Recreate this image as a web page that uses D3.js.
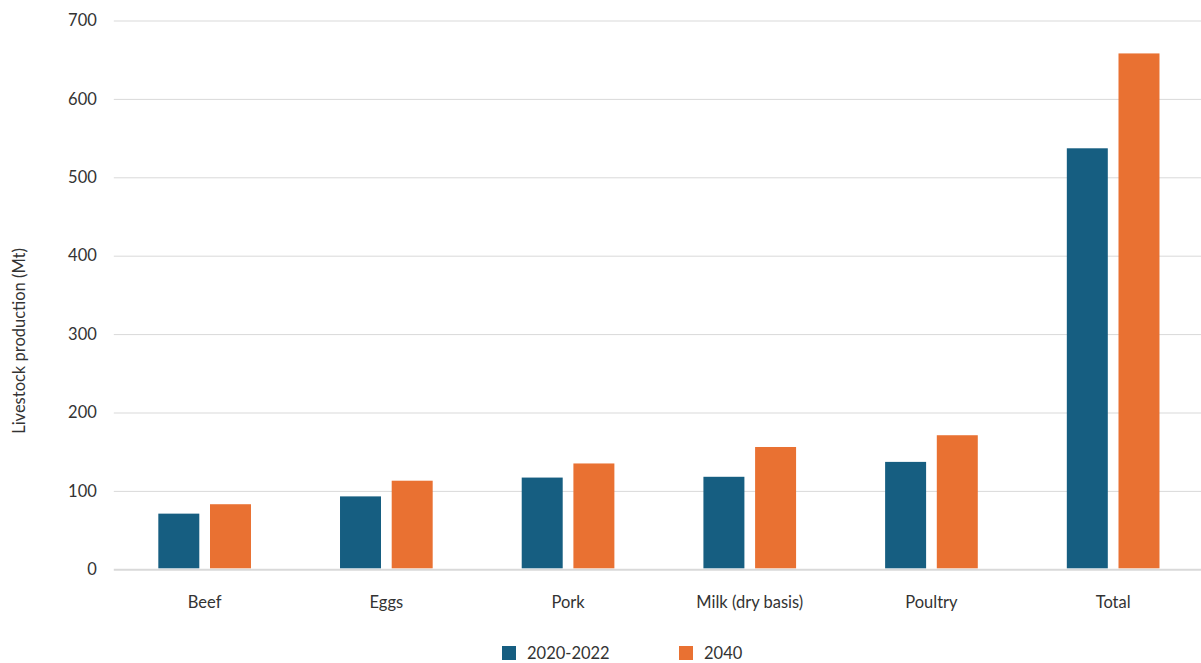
<!DOCTYPE html>
<html>
<head>
<meta charset="utf-8">
<script src="https://cdn.jsdelivr.net/npm/d3@7"></script>
<style>
  html, body { margin: 0; padding: 0; background: #fff; }
  svg { display: block; font-family: Lato, "Open Sans", sans-serif; }
</style>
</head>
<body>
<svg id="chart" width="1201" height="663"></svg>
<script>
const categories = ["Beef", "Eggs", "Pork", "Milk (dry basis)", "Poultry", "Total"];
const seriesNames = ["2020-2022", "2040"];
const values2020 = [71, 93, 117, 118, 137, 537];
const values2040 = [83, 113, 135, 156, 171, 658];
const yTicks = [0, 100, 200, 300, 400, 500, 600, 700];
const colors = ["#165E81", "#E97132"];

const FONT = "Lato, 'Open Sans', sans-serif";
const FS = "16.5px";
const TXT = "#333333";

const svg = d3.select("#chart");
const mLeft = 113.8, mRight = 1204, mTop = 20.5, mBottom = 569.3;

const x0 = d3.scaleBand().domain(categories).range([mLeft, mRight])
  .paddingInner(0.49).paddingOuter(0.245);
const x1 = d3.scaleBand().domain(seriesNames).range([0, x0.bandwidth()])
  .paddingInner(0.207).paddingOuter(0);
const y = d3.scaleLinear().domain([0, 700]).range([mBottom, mTop]);

// gridlines + y tick labels
const yAxis = d3.axisLeft(y).tickValues(yTicks).tickSize(-(1201 - mLeft)).tickPadding(17);
const gy = svg.append("g").attr("transform", `translate(${mLeft},0)`).call(yAxis);
gy.select(".domain").remove();
gy.selectAll(".tick line").attr("stroke", "#d9d9d9")
  .attr("stroke-width", d => d === 0 ? 2 : 1);
gy.selectAll(".tick text").attr("fill", TXT).style("font-size", FS)
  .style("font-family", FONT);

// bars
const data = categories.map((c, i) => ({ cat: c, vals: [values2020[i], values2040[i]] }));
const groups = svg.append("g").selectAll("g").data(data).join("g")
  .attr("transform", d => `translate(${x0(d.cat)},0)`);
groups.selectAll("rect").data(d => d.vals.map((v, j) => ({ v, s: seriesNames[j], j })))
  .join("rect")
  .attr("x", d => x1(d.s))
  .attr("width", x1.bandwidth())
  .attr("y", d => y(d.v))
  .attr("height", d => y(0) - y(d.v) - 1)
  .attr("fill", d => colors[d.j]);

// x labels
const xAxis = d3.axisBottom(x0).tickSize(0).tickPadding(27);
const gx = svg.append("g").attr("transform", `translate(0,${mBottom})`).call(xAxis);
gx.select(".domain").remove();
gx.selectAll(".tick text").attr("fill", TXT).style("font-size", FS)
  .style("font-family", FONT);

// y title
svg.append("text")
  .attr("transform", "translate(25,341) rotate(-90)")
  .attr("text-anchor", "middle")
  .attr("fill", TXT)
  .style("font-size", FS)
  .style("font-family", FONT)
  .text("Livestock production (Mt)");

// legend
const legendX = [502, 679];
const leg = svg.append("g").selectAll("g").data(seriesNames).join("g")
  .attr("transform", (d, i) => `translate(${legendX[i]},646)`);
leg.append("rect").attr("width", 14).attr("height", 14).attr("fill", (d, i) => colors[i]);
leg.append("text").attr("x", 25).attr("y", 13).attr("fill", TXT)
  .style("font-size", FS).style("font-family", FONT).text(d => d);
</script>
</body>
</html>
